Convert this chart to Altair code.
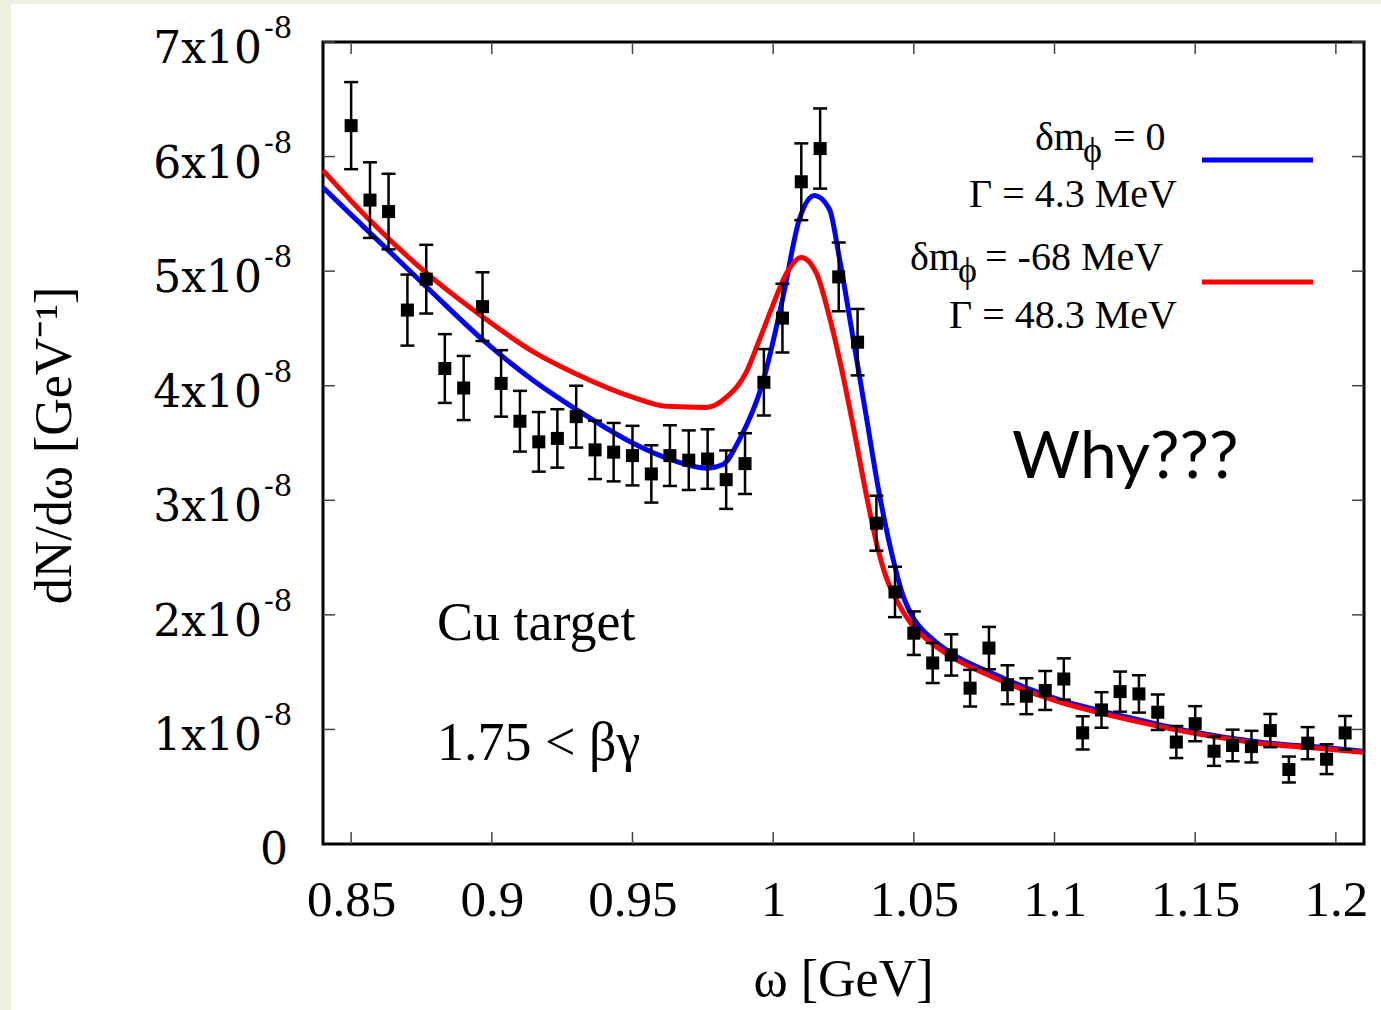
import altair as alt
import pandas as pd

# ---------------- data (dN/dw values in units of 1e-8 GeV^-1) ----------------
omega = [0.85, 0.8567, 0.8633, 0.87, 0.8767, 0.8833, 0.89, 0.8967, 0.9033, 0.91,
         0.9167, 0.9233, 0.93, 0.9367, 0.9433, 0.95, 0.9567, 0.9633, 0.97, 0.9767,
         0.9833, 0.99, 0.9967, 1.0033, 1.01, 1.0167, 1.0233, 1.03, 1.0367, 1.0433,
         1.05, 1.0567, 1.0633, 1.07, 1.0767, 1.0833, 1.09, 1.0967, 1.1033, 1.11,
         1.1167, 1.1233, 1.13, 1.1367, 1.1433, 1.15, 1.1567, 1.1633, 1.17, 1.1767,
         1.1833, 1.19, 1.1967, 1.2033]
dndw = [6.27, 5.62, 5.52, 4.66, 4.93, 4.15, 3.98, 4.69, 4.02, 3.69,
        3.51, 3.54, 3.73, 3.44, 3.42, 3.39, 3.23, 3.39, 3.35, 3.36,
        3.18, 3.32, 4.03, 4.59, 5.78, 6.07, 4.95, 4.38, 2.80, 2.20,
        1.84, 1.58, 1.65, 1.36, 1.71, 1.39, 1.29, 1.34, 1.44, 0.97,
        1.17, 1.33, 1.31, 1.15, 0.89, 1.05, 0.81, 0.86, 0.85, 0.99,
        0.65, 0.88, 0.74, 0.97]
dndw_err = [0.38, 0.33, 0.33, 0.31, 0.30, 0.30, 0.28, 0.30, 0.29, 0.265,
            0.26, 0.255, 0.27, 0.255, 0.255, 0.26, 0.25, 0.265, 0.26, 0.26,
            0.255, 0.265, 0.29, 0.30, 0.335, 0.35, 0.30, 0.29, 0.24, 0.22,
            0.19, 0.175, 0.18, 0.16, 0.185, 0.17, 0.157, 0.17, 0.18, 0.145,
            0.155, 0.175, 0.163, 0.155, 0.14, 0.153, 0.128, 0.138, 0.138, 0.145,
            0.113, 0.14, 0.13, 0.148]

blue_x = [0.8400, 0.8556, 0.8769, 0.8968, 0.9145, 0.9302, 0.9500, 0.9642, 0.9763, 0.9820,
          0.9880, 0.9962, 1.0033, 1.0093, 1.0147, 1.0200, 1.0235, 1.0281, 1.0331, 1.0377,
          1.0423, 1.0460, 1.0494, 1.0565, 1.0636, 1.0778, 1.1016, 1.1254, 1.1488, 1.1726,
          1.1964, 1.2095]
blue_y = [5.73, 5.36, 4.86, 4.40, 4.05, 3.79, 3.50, 3.35, 3.28, 3.31,
          3.53, 4.02, 4.75, 5.45, 5.66, 5.54, 5.12, 4.46, 3.73, 3.06,
          2.52, 2.18, 1.99, 1.79, 1.66, 1.49, 1.26, 1.11, 0.98, 0.89,
          0.84, 0.81]

red_x = [0.8400, 0.8556, 0.8769, 0.8968, 0.9145, 0.9302, 0.9500, 0.9621, 0.9763, 0.9834,
         0.9905, 0.9951, 0.9997, 1.0047, 1.0100, 1.0154, 1.0200, 1.0242, 1.0289, 1.0335,
         1.0370, 1.0400, 1.0438, 1.0494, 1.0565, 1.0636, 1.0778, 1.1016, 1.1254, 1.1488,
         1.1726, 1.1964, 1.2095]
red_y = [5.88, 5.47, 4.98, 4.60, 4.30, 4.10, 3.90, 3.82, 3.81, 3.90,
         4.12, 4.40, 4.69, 4.98, 5.12, 4.98, 4.60, 4.16, 3.59, 3.00,
         2.60, 2.34, 2.13, 1.91, 1.75, 1.63, 1.46, 1.24, 1.09, 0.97,
         0.88, 0.83, 0.80]

x_ticks = [0.85, 0.9, 0.95, 1.0, 1.05, 1.1, 1.15, 1.2]
y_ticks = [1, 2, 3, 4, 5, 6, 7]
y_tick_main = ["1x10", "2x10", "3x10", "4x10", "5x10", "6x10", "7x10"]
y_tick_exp = ["-8", "-8", "-8", "-8", "-8", "-8", "-8"]
E = 1e-8

# ---------------- tables ----------------
pts = pd.DataFrame({
    "w": omega,
    "y": [v * E for v in dndw],
    "lo": [(v - e) * E for v, e in zip(dndw, dndw_err)],
    "hi": [(v + e) * E for v, e in zip(dndw, dndw_err)],
})
blue = pd.DataFrame({"w": blue_x, "y": [v * E for v in blue_y]})
red = pd.DataFrame({"w": red_x, "y": [v * E for v in red_y]})
xt = pd.DataFrame({"w": x_ticks})
yt = pd.DataFrame({"y": [v * E for v in y_ticks], "main": y_tick_main, "exp": y_tick_exp})
yt0 = pd.DataFrame({"y": [0.0], "main": ["0"]})
one = pd.DataFrame({"a": [0]})

W, H = 1041, 802
SERIF = "Liberation Serif"

xscale = alt.Scale(domain=[0.84, 1.21], nice=False, zero=False)
yscale = alt.Scale(domain=[0, 7e-8], nice=False, zero=False)
xaxis = alt.Axis(values=x_ticks, ticks=False, domain=False, grid=False,
                 labelFont=SERIF, labelFontSize=51, labelColor="black",
                 labelPadding=31, labelFlush=False, labelOverlap=False,
                 labelExpr="format(datum.value, '.3~f')",
                 title="ω [GeV]", titleFont=SERIF, titleFontSize=52,
                 titleFontWeight="normal", titleColor="black",
                 titleX=520, titleY=151, titleBaseline="alphabetic", zindex=1)
yaxis = alt.Axis(labels=False, ticks=False, domain=False, grid=False,
                 title="dN/dω [GeV⁻¹]", titleFont=SERIF, titleFontSize=52,
                 titleFontWeight="normal", titleColor="black",
                 titleX=-253, titleY=403, titleBaseline="alphabetic", zindex=1)


def X(f="w"):
    return alt.X(f"{f}:Q", scale=xscale, axis=xaxis)


def Y(f="y"):
    return alt.Y(f"{f}:Q", scale=yscale, axis=yaxis)


def txt(text, x, y, size, font=SERIF, align="left"):
    return alt.Chart(one).mark_text(text=text, align=align, baseline="alphabetic",
                                    font=font, fontSize=size, color="black").encode(
        x=alt.value(x), y=alt.value(y))


FRAME = "#ebf1de"
strip_left = alt.Chart(one).mark_rect(color=FRAME).encode(
    x=alt.value(-323), x2=alt.value(-312), y=alt.value(-42), y2=alt.value(968))
strip_top = alt.Chart(one).mark_rect(color=FRAME).encode(
    x=alt.value(-323), x2=alt.value(1058), y=alt.value(-42), y2=alt.value(-38))

blue_line = alt.Chart(blue).mark_line(color="#0000ff", strokeWidth=5,
                                      interpolate="monotone").encode(x=X(), y=Y())
red_line = alt.Chart(red).mark_line(color="#ff0000", strokeWidth=5,
                                    interpolate="monotone").encode(x=X(), y=Y())

bars = alt.Chart(pts).mark_rule(color="black", strokeWidth=2.5).encode(
    x=X(), y=Y("lo"), y2="hi:Q")
cap_lo = alt.Chart(pts).mark_tick(color="black", orient="horizontal", size=14,
                                  thickness=2.5, opacity=1).encode(x=X(), y=Y("lo"))
cap_hi = alt.Chart(pts).mark_tick(color="black", orient="horizontal", size=14,
                                  thickness=2.5, opacity=1).encode(x=X(), y=Y("hi"))
squares = alt.Chart(pts).mark_square(color="black", size=170, opacity=1,
                                     filled=True).encode(x=X(), y=Y())

tick_col = "#444444"
xt_bot = alt.Chart(xt).mark_rule(color=tick_col, strokeWidth=1.5).encode(
    x=X(), y=alt.value(H), y2=alt.value(H - 12))
xt_top = alt.Chart(xt).mark_rule(color=tick_col, strokeWidth=1.5).encode(
    x=X(), y=alt.value(0), y2=alt.value(12))
yt_left = alt.Chart(yt).mark_rule(color=tick_col, strokeWidth=1.5).encode(
    y=Y(), x=alt.value(0), x2=alt.value(12))
yt_right = alt.Chart(yt).mark_rule(color=tick_col, strokeWidth=1.5).encode(
    y=Y(), x=alt.value(W), x2=alt.value(W - 12))

ylab_main = alt.Chart(yt).mark_text(align="right", baseline="alphabetic",
                                    font="DejaVu Serif", fontSize=44, dy=21,
                                    color="black").encode(
    y=Y(), x=alt.value(-61), text="main:N")
ylab_exp = alt.Chart(yt).mark_text(align="left", baseline="alphabetic",
                                   font="DejaVu Serif", fontSize=29, dy=-4,
                                   color="black").encode(
    y=Y(), x=alt.value(-59), text="exp:N")
ylab_zero = alt.Chart(yt0).mark_text(align="right", baseline="alphabetic",
                                     font="DejaVu Serif", fontSize=44, dy=20,
                                     color="black").encode(
    y=Y(), x=alt.value(-35), text="main:N")

leg_blue = alt.Chart(one).mark_rule(color="#0000ff", strokeWidth=5).encode(
    x=alt.value(879), x2=alt.value(990), y=alt.value(118))
leg_red = alt.Chart(one).mark_rule(color="#ff0000", strokeWidth=5).encode(
    x=alt.value(879), x2=alt.value(990), y=alt.value(240))

annotations = [
    txt("δm", 712, 108, 40), txt("ϕ", 760, 120, 36), txt("= 0", 790, 108, 40),
    txt("Γ = 4.3 MeV", 854, 165, 40, align="right"),
    txt("δm", 587, 228, 40), txt("ϕ", 635, 240, 36), txt("= -68 MeV", 662, 228, 40),
    txt("Γ = 48.3 MeV", 854, 286, 40, align="right"),
    txt("Cu target", 114, 598, 54),
    txt("1.75 < βγ", 114, 718, 54),
    txt("Why???", 689, 436, 66, font="Lato"),
]

chart = alt.layer(
    strip_left, strip_top, blue_line, red_line, bars, cap_lo, cap_hi, squares,
    xt_bot, xt_top, yt_left, yt_right, ylab_main, ylab_exp, ylab_zero,
    leg_blue, leg_red, *annotations
).properties(
    width=W, height=H,
    autosize=alt.AutoSizeParams(type="none"),
    padding={"left": 323, "top": 42, "right": 17, "bottom": 166},
    background="white",
).configure_view(stroke="black", strokeWidth=3)

chart.save("out.html", embed_options={"renderer": "svg", "actions": False})
